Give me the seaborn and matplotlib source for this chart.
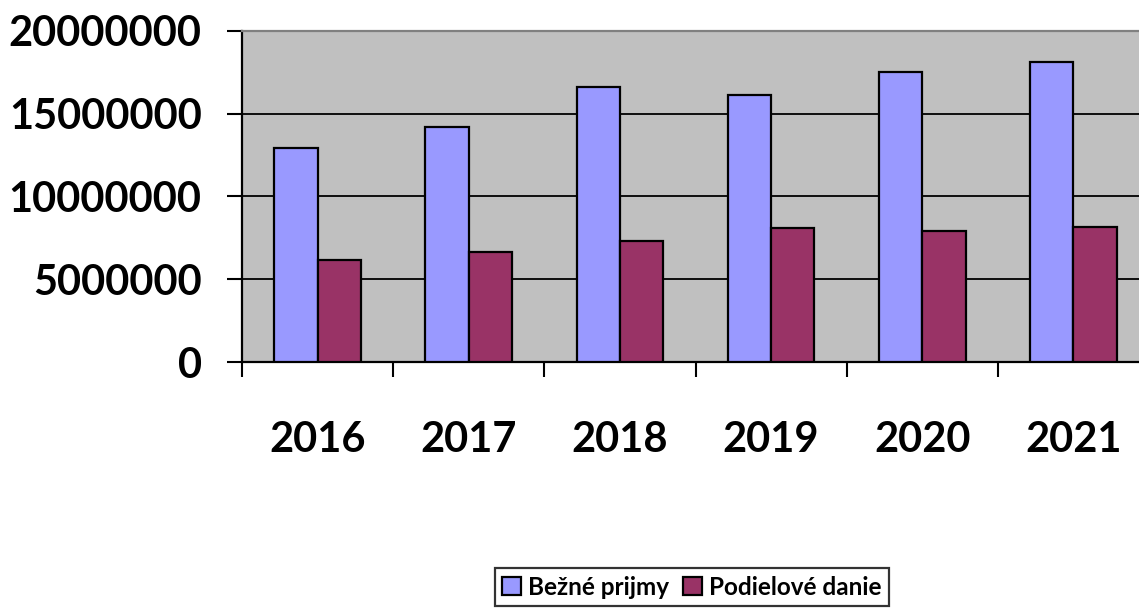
import pandas as pd
import seaborn as sns
import matplotlib.pyplot as plt
from matplotlib.ticker import FixedLocator

years = ['2016', '2017', '2018', '2019', '2020', '2021']
bezne_prijmy = [12950000, 14220000, 16580000, 16120000, 17530000, 18120000]
podielove_dane = [6190000, 6660000, 7340000, 8070000, 7910000, 8170000]
series_names = ['Bežné prijmy', 'Podielové danie']
y_ticks = [0, 5000000, 10000000, 15000000, 20000000]

sns.set_style('white')
plt.rcParams['font.family'] = ['Lato', 'DejaVu Sans']
plt.rcParams['font.weight'] = 'bold'
plt.rcParams['text.color'] = 'black'
plt.rcParams['xtick.color'] = 'black'
plt.rcParams['ytick.color'] = 'black'

df = pd.DataFrame({
    'rok': years * 2,
    'hodnota': bezne_prijmy + podielove_dane,
    'seria': [series_names[0]] * len(years) + [series_names[1]] * len(years),
})

fig = plt.figure(figsize=(11.39, 6.09), dpi=100)
ax = fig.add_axes([0.2125, 0.4051, 0.7963, 0.5445])
ax.set_facecolor('#C0C0C0')

sns.barplot(data=df, x='rok', y='hodnota', hue='seria',
            palette=['#9999FF', '#993366'], saturation=1,
            edgecolor='black', linewidth=1.6,
            width=0.574, gap=0, ax=ax, zorder=3, legend=True)

ax.set_ylim(0, 20000000)
ax.set_yticks(y_ticks)
ax.set_yticklabels([str(v) for v in y_ticks], fontsize=30, fontweight='bold')
ax.yaxis.grid(True, color='black', linewidth=1.3, zorder=0)
ax.set_axisbelow(True)
ax.tick_params(axis='y', length=11, width=1.5, pad=18, direction='out', left=True)

ax.set_xlim(-0.5, len(years) - 0.5)
ax.set_xticklabels(years, fontsize=30, fontweight='bold')
ax.tick_params(axis='x', which='major', length=0, pad=42)
ax.xaxis.set_minor_locator(FixedLocator([i - 0.5 for i in range(len(years) + 1)]))
ax.tick_params(axis='x', which='minor', length=10.5, width=1.5, direction='out', bottom=True)

ax.set_xlabel('')
ax.set_ylabel('')
for side in ['left', 'bottom']:
    ax.spines[side].set_color('black')
    ax.spines[side].set_linewidth(1.6)
ax.spines['top'].set_color('#808080')
ax.spines['top'].set_linewidth(1.6)
ax.spines['right'].set_visible(False)

handles, labels = ax.get_legend_handles_labels()
ax.get_legend().remove()
leg = fig.legend(handles, labels, loc='center', bbox_to_anchor=(0.6075, 0.036),
                 ncol=2, frameon=True, fancybox=False, edgecolor='black',
                 prop={'size': 17.5, 'weight': 'bold'}, handlelength=0.75,
                 handleheight=0.75, handletextpad=0.3, columnspacing=0.6,
                 borderpad=0.3, borderaxespad=0)
leg.get_frame().set_linewidth(1.6)

fig.savefig('out.png', dpi=100)
